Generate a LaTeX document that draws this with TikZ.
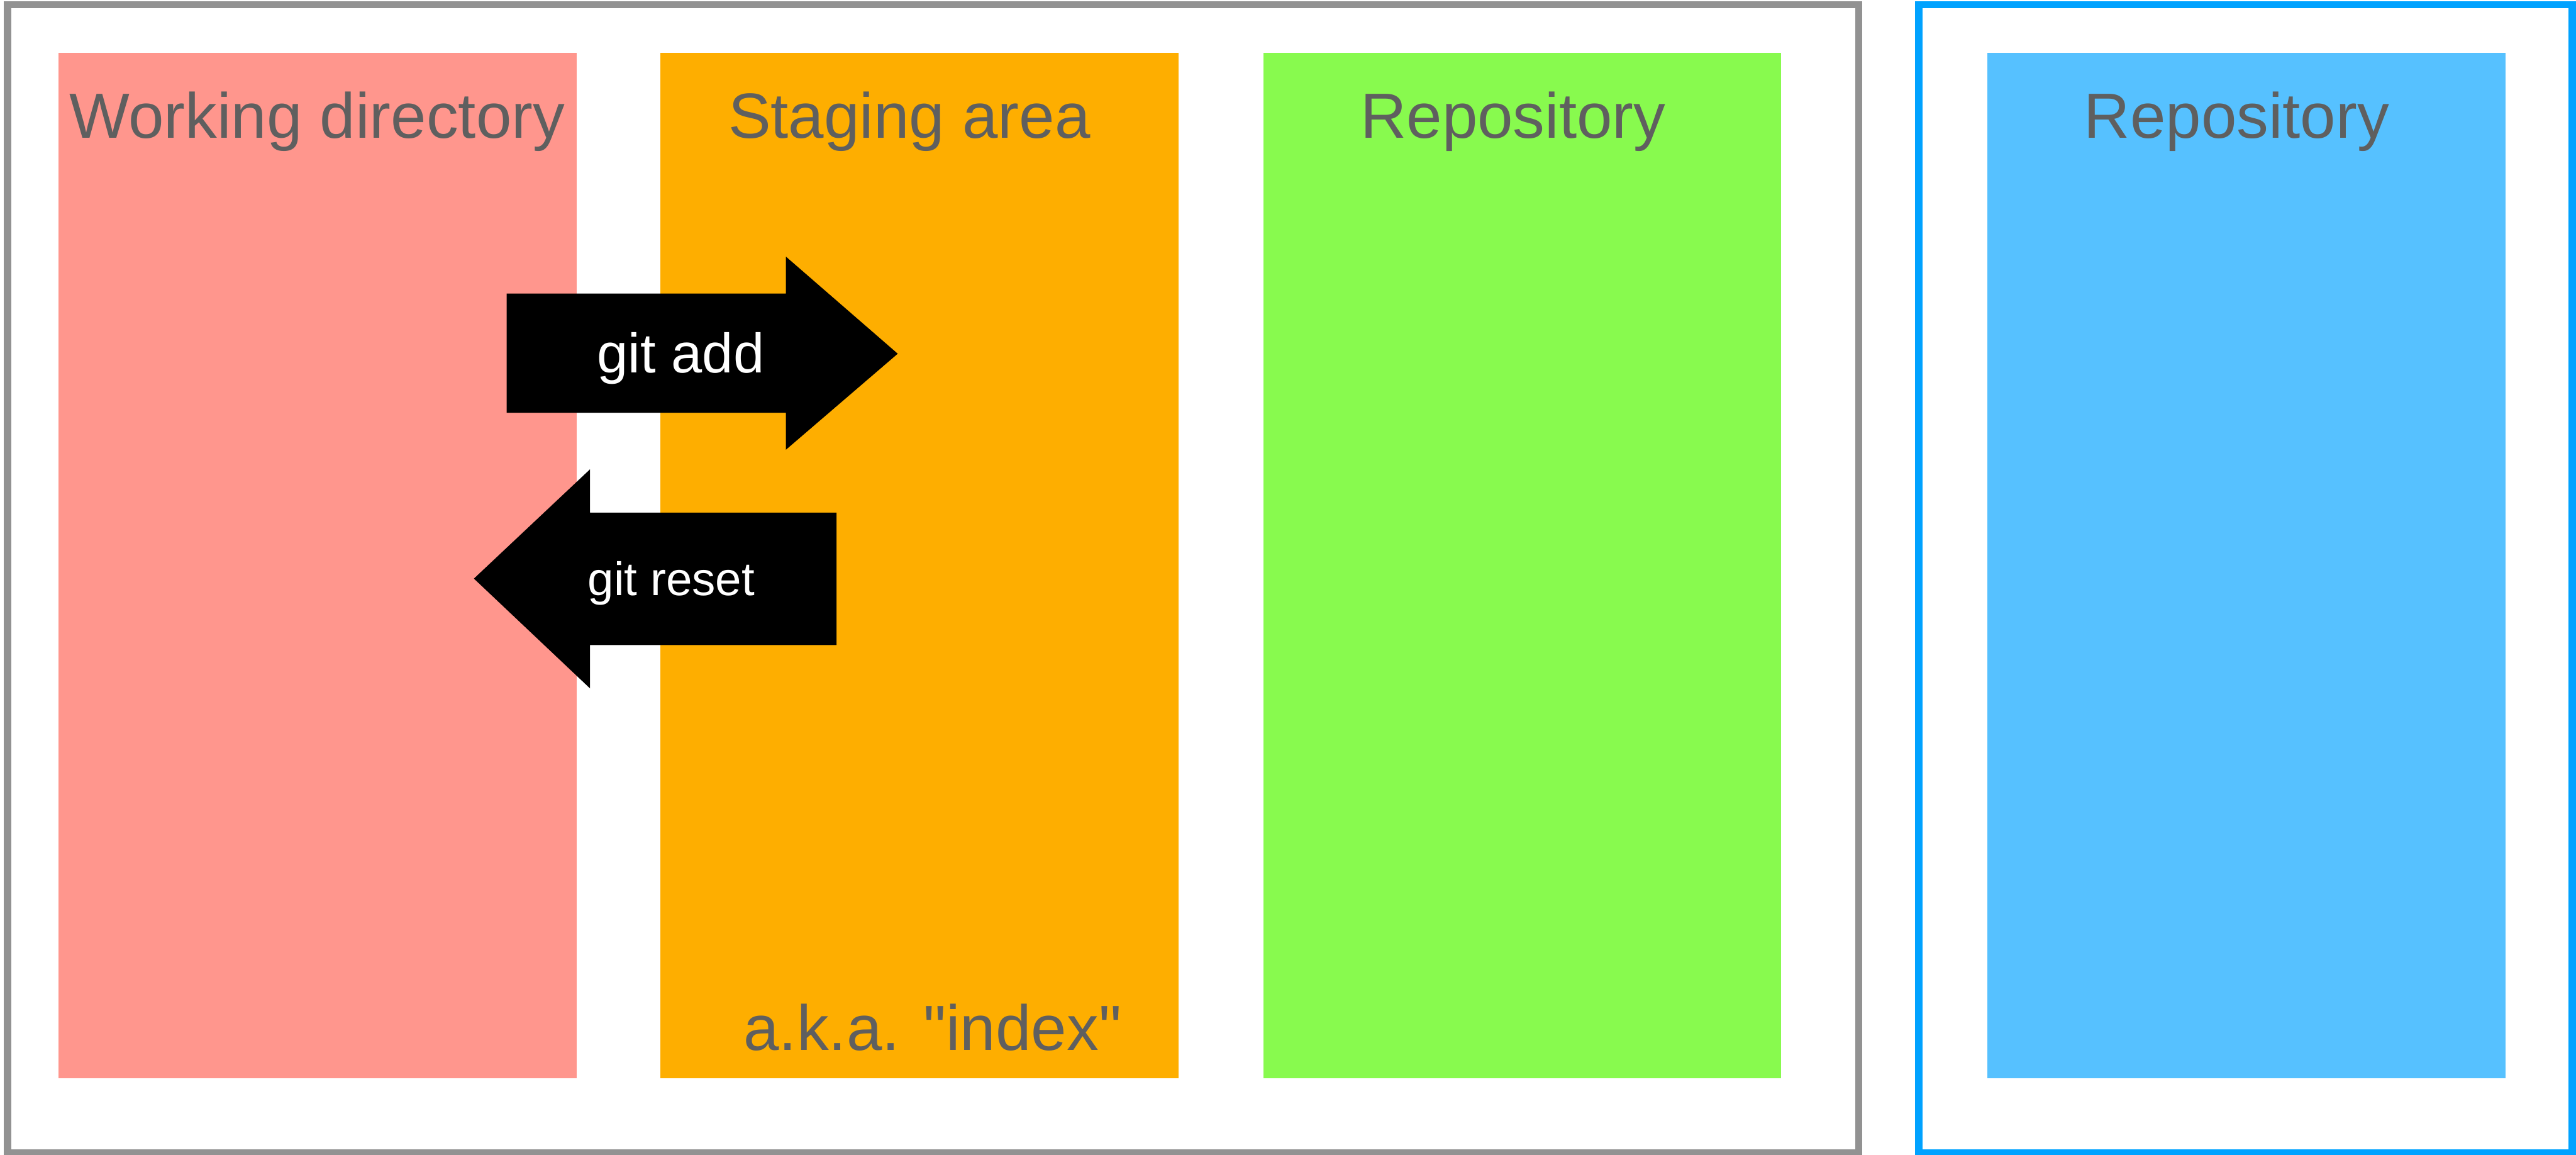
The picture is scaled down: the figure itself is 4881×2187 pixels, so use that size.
\documentclass[tikz,border=0pt]{standalone}
\usepackage{fontspec}
\setmainfont{Liberation Sans}[Ligatures=TeXOff]
\definecolor{wdfill}{HTML}{FF968D}
\definecolor{stfill}{HTML}{FEAE00}
\definecolor{rpfill}{HTML}{88FA4E}
\definecolor{rmfill}{HTML}{56C1FF}
\definecolor{localedge}{HTML}{929292}
\definecolor{remoteedge}{HTML}{00A2FF}
\definecolor{labelgray}{HTML}{5F5F5F}
\begin{document}
\begin{tikzpicture}[x=0.01cm,y=-0.01cm,
  panel/.style={draw=none, inner sep=0pt, anchor=north west,
    minimum width=9.81cm, minimum height=19.42cm},
  frame/.style={line width=0.14cm},
  title/.style={anchor=base, inner sep=0pt, text=labelgray, font=\fontsize{34.4pt}{40pt}\selectfont},
  cmdarrow/.style={fill=black},
  cmdtext/.style={anchor=base, inner sep=0pt, text=white}]
\useasboundingbox (0,0) rectangle (4881,2187);

% local and remote frames
\draw[frame, localedge] (14,9) rectangle (3522,2184);
\draw[frame, remoteedge] (3636,9) rectangle (4874,2184);

% the four areas
\node[panel, fill=wdfill] (wd) at (110,99) {};
\node[panel, fill=stfill] (stage) at (1251,99) {};
\node[panel, fill=rpfill] (repo) at (2393,99) {};
\node[panel, fill=rmfill] (remote) at (3765,99) {};

% area titles
\node[title] (wdtitle) at (601,262) {Working directory};
\node[title] (sttitle) at (1723,262) {Staging area};
\node[title] (rptitle) at (2867,262) {Repository};
\node[title] (rmtitle) at (4238,262) {Repository};
\node[title] (aka) at (1767,1989) {a.k.a. "index"};

% git add: block arrow pointing right
\fill[cmdarrow] (960,556) -- (1489,556) -- (1489,486) -- (1701,670)
  -- (1489,852) -- (1489,782) -- (960,782) -- cycle;
\node[cmdtext, font=\fontsize{30pt}{36pt}\selectfont] (add) at (1290,706) {git add};

% git reset: block arrow pointing left
\fill[cmdarrow] (1585,971) -- (1118,971) -- (1118,889) -- (898,1096)
  -- (1118,1304) -- (1118,1222) -- (1585,1222) -- cycle;
\node[cmdtext, font=\fontsize{25.3pt}{30pt}\selectfont] (reset) at (1272,1128) {git reset};
\end{tikzpicture}
\end{document}
